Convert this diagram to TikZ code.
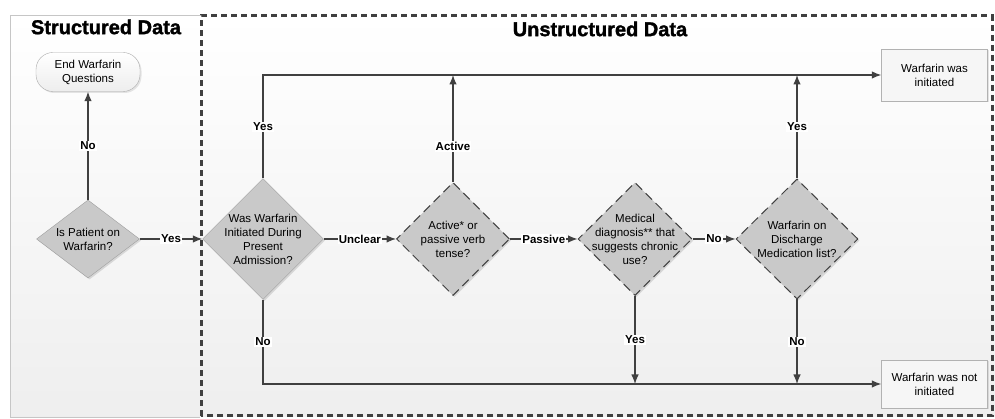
\documentclass[tikz,border=0pt]{standalone}
\usepackage{fontspec}
\setmainfont{Liberation Sans}
\newfontfamily\heavyfont[BoldFeatures={FakeBold=1.5}]{Liberation Sans}
\usetikzlibrary{shapes.geometric,arrows.meta,shadows}

\definecolor{linegray}{HTML}{404040}

\begin{document}
\begin{tikzpicture}[x=1pt,y=1pt,
  >={Latex[length=9.5pt,width=7.5pt]},
  every node/.style={font=\fontsize{11.5}{14}\selectfont},
  txt/.style={align=center},
  dia/.style={diamond,draw=gray!75,fill=gray!42,inner sep=0pt,
    drop shadow={shadow xshift=1.5pt,shadow yshift=-1.5pt,opacity=0.25}},
  dashdia/.style={dia,draw=linegray,line width=1pt,dash pattern=on 9pt off 5pt},
  term/.style={rectangle,rounded corners=17pt,draw=gray!65,top color=white,bottom color=gray!14,
    minimum width=104pt,minimum height=39pt,align=center,
    drop shadow={shadow xshift=1.5pt,shadow yshift=-1.5pt,opacity=0.2}},
  box/.style={rectangle,draw=gray!60,fill=gray!7,minimum width=106pt,align=center,
    drop shadow={shadow xshift=1.5pt,shadow yshift=-1.5pt,opacity=0.2}},
  lbl/.style={fill=white,inner sep=1pt,font=\bfseries\fontsize{11.5}{13}\selectfont},
  flow/.style={->,draw=linegray,line width=1.2pt},
  title/.style={font=\heavyfont\bfseries\fontsize{20}{24}\selectfont}]

\useasboundingbox (0,0) rectangle (995,419);

% lanes
\shade[top color=white,bottom color=gray!13] (10,2) rectangle (995,404);
\draw[gray!45] (200,404) -| (10,2) -- (200,2);
\draw[linegray,line width=3pt,dash pattern=on 6pt off 4pt] (201,3) rectangle (992,403);
\node[title] (ttl1) at (106,392) {Structured Data};
\node[title] (ttl2) at (600,390) {Unstructured Data};

% nodes
\node[dia,minimum width=103pt,minimum height=78pt,
  label={[txt]center:Is Patient on\\Warfarin?}] (q1) at (88,180) {};
\node[term] (end) [above of=q1,node distance=167pt] {End Warfarin\\Questions};
\node[dia,minimum width=121pt,minimum height=121pt,
  label={[txt]center:Was Warfarin\\Initiated During\\Present\\Admission?}] (q2) [right of=q1,node distance=175pt] {};
\node[dashdia,minimum width=113pt,minimum height=113pt,
  label={[txt]center:Active* or\\passive verb\\tense?}] (q3) [right of=q2,node distance=190pt] {};
\node[dashdia,minimum width=114pt,minimum height=113pt,
  label={[txt]center:Medical\\diagnosis** that\\suggests chronic\\use?}] (q4) [right of=q3,node distance=182pt] {};
\node[dashdia,minimum width=122pt,minimum height=120pt,
  label={[txt]center:Warfarin on\\Discharge\\Medication list?}] (q5) [right of=q4,node distance=162pt] {};
\node[box,minimum height=52pt] (init) at (934.5,344) {Warfarin was\\initiated};
\node[box,minimum height=48pt] (notinit) at (934.5,35) {Warfarin was not\\initiated};

\coordinate (a3) at (q3.north |- init.west);
\coordinate (b4) at (q4.south |- notinit.west);
\coordinate (a5) at (q5.north |- init.west);
\coordinate (b5) at (q5.south |- notinit.west);

% arrows
\draw[flow] (q1) -- node[lbl] {No} (end);
\draw[flow] (q1) -- node[lbl] {Yes} (q2);
\draw[flow] (q2.north) |- node[lbl,pos=0.25] {Yes} (init.west);
\draw[flow] (q2.south) |- node[lbl,pos=0.25] {No} (notinit.west);
\draw[flow] (q2) -- node[lbl] {Unclear} (q3);
\draw[flow] (q3.north) -- node[lbl,pos=0.33] {Active} (a3);
\draw[flow] (q3) -- node[lbl] {Passive} (q4);
\draw[flow] (q4.south) -- node[lbl] {Yes} (b4);
\draw[flow] (q4) -- node[lbl] {No} (q5);
\draw[flow] (q5.north) -- node[lbl] {Yes} (a5);
\draw[flow] (q5.south) -- node[lbl] {No} (b5);
\end{tikzpicture}
\end{document}
